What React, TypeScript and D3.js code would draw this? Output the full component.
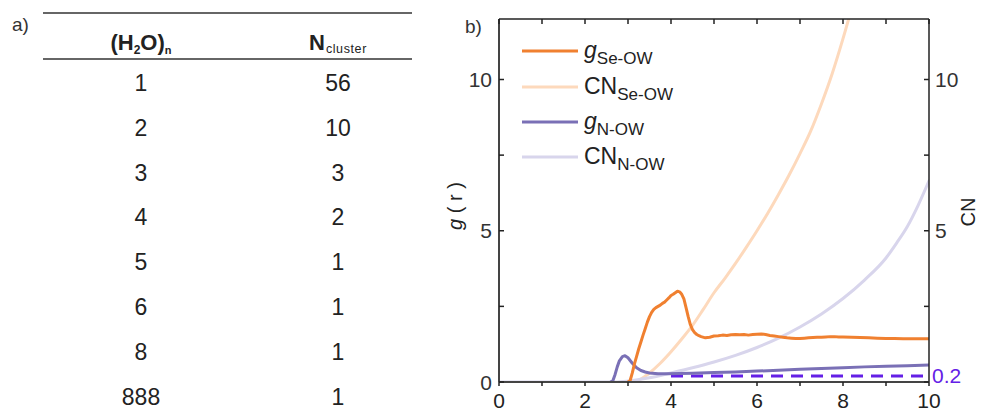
import React from "react";
import * as d3 from "d3";

// ---------- Table data ----------
const clusterSizes = ["1", "2", "3", "4", "5", "6", "8", "888"];
const clusterCounts = ["56", "10", "3", "2", "1", "1", "1", "1"];

// ---------- Chart data ----------
const xTicks = [0, 2, 4, 6, 8, 10];
const xMinorTicks = [0, 1, 2, 3, 4, 5, 6, 7, 8, 9, 10];
const yTicks = [0, 5, 10];
const yMinorTicks = [2.5, 7.5];
const refLevel = 0.2;
const refStart = 4.0;

// g Se-OW : [r, g]
const gSeOW: [number, number][] = [
  [3.0, 0], [3.05, 0.05], [3.1, 0.3], [3.15, 0.6], [3.2, 0.85], [3.25, 1.1], [3.3, 1.32],
  [3.35, 1.55], [3.4, 1.76], [3.45, 1.98], [3.5, 2.16], [3.55, 2.3], [3.6, 2.4], [3.65, 2.46],
  [3.7, 2.5], [3.75, 2.54], [3.8, 2.6], [3.85, 2.64], [3.9, 2.71], [3.95, 2.78], [4.0, 2.86],
  [4.05, 2.9], [4.1, 2.95], [4.15, 3.0], [4.2, 2.98], [4.25, 2.9], [4.3, 2.75], [4.35, 2.46],
  [4.4, 2.16], [4.45, 1.9], [4.5, 1.73], [4.55, 1.63], [4.6, 1.57], [4.65, 1.53], [4.7, 1.5],
  [4.8, 1.46], [4.9, 1.48], [5.0, 1.52], [5.1, 1.53], [5.2, 1.55], [5.3, 1.54], [5.4, 1.56],
  [5.5, 1.57], [5.6, 1.56], [5.7, 1.57], [5.8, 1.55], [5.9, 1.57], [6.0, 1.58], [6.1, 1.59],
  [6.2, 1.57], [6.3, 1.54], [6.4, 1.52], [6.5, 1.5], [6.6, 1.48], [6.7, 1.46], [6.8, 1.45],
  [6.9, 1.44], [7.0, 1.44], [7.1, 1.45], [7.2, 1.46], [7.3, 1.47], [7.4, 1.48], [7.5, 1.48],
  [7.6, 1.49], [7.7, 1.5], [7.8, 1.5], [7.9, 1.49], [8.0, 1.49], [8.2, 1.48], [8.4, 1.47],
  [8.6, 1.46], [8.8, 1.45], [9.0, 1.44], [9.2, 1.44], [9.4, 1.43], [9.6, 1.43], [9.8, 1.43],
  [10.0, 1.43],
];

// CN Se-OW : [r, CN]
const cnSeOW: [number, number][] = [
  [3.1, 0], [3.3, 0.1], [3.5, 0.3], [3.75, 0.62], [4.0, 1.0], [4.25, 1.42], [4.5, 1.87],
  [4.75, 2.4], [5.0, 2.95], [5.25, 3.42], [5.5, 3.92], [5.75, 4.45], [6.0, 5.0],
  [6.25, 5.58], [6.5, 6.2], [6.75, 6.85], [7.0, 7.55], [7.25, 8.3], [7.5, 9.2],
  [7.75, 10.2], [8.0, 11.35], [8.25, 12.6],
];

// g N-OW : [r, g]
const gNOW: [number, number][] = [
  [2.6, 0], [2.65, 0.05], [2.7, 0.25], [2.75, 0.5], [2.8, 0.7], [2.87, 0.84],
  [2.93, 0.87], [3.0, 0.8], [3.1, 0.62], [3.2, 0.47], [3.3, 0.38], [3.4, 0.33], [3.5, 0.3],
  [3.7, 0.27], [3.9, 0.27], [4.2, 0.28], [4.5, 0.29], [5.0, 0.31], [5.5, 0.33], [6.0, 0.36],
  [6.5, 0.39], [7.0, 0.42], [7.5, 0.45], [8.0, 0.47], [8.5, 0.5], [9.0, 0.52], [9.5, 0.54],
  [10.0, 0.56],
];

// CN N-OW : [r, CN]
const cnNOW: [number, number][] = [
  [0, 0], [2.7, 0], [3.0, 0.03], [3.5, 0.14], [4.0, 0.3], [4.5, 0.47], [5.0, 0.66],
  [5.5, 0.88], [6.0, 1.14], [6.5, 1.45], [7.0, 1.82], [7.5, 2.25], [8.0, 2.76],
  [8.5, 3.37], [9.0, 4.1], [9.25, 4.6], [9.5, 5.15], [9.75, 5.85], [10.0, 6.65],
];

const C_GSE = "#F08030";
const C_CNSE = "#FDD9BC";
const C_GN = "#7A70B6";
const C_CNN = "#D8D5EC";
const C_REF = "#6420E6";
const FONT = "'Liberation Sans', Arial, Helvetica, sans-serif";

export default function App() {
  const W = 981;
  const H = 412;
  const x = d3.scaleLinear().domain([0, 10]).range([499, 929]);
  const y = d3.scaleLinear().domain([0, 12]).range([382, 19]);
  const line = d3
    .line<[number, number]>()
    .x((d) => x(d[0]))
    .y((d) => y(d[1]));
  const smooth = d3
    .line<[number, number]>()
    .x((d) => x(d[0]))
    .y((d) => y(d[1]))
    .curve(d3.curveMonotoneX);

  const [x0, x1] = x.range();
  const [yb, yt] = y.range();

  // table layout
  const col1 = 141;
  const col2 = 338;
  const rowY0 = 83;
  const rowStep = 44.8;

  const legend = [
    { color: C_GSE, main: "g", italic: true, sub: "Se-OW", y: 51 },
    { color: C_CNSE, main: "CN", italic: false, sub: "Se-OW", y: 87 },
    { color: C_GN, main: "g", italic: true, sub: "N-OW", y: 122 },
    { color: C_CNN, main: "CN", italic: false, sub: "N-OW", y: 157 },
  ];

  return (
    <div style={{ position: "absolute", left: 0, top: 0 }}>
      <svg width={W} height={H} viewBox={`0 0 ${W} ${H}`} style={{ display: "block", background: "#fff" }}>
        <defs>
          <clipPath id="plotclip">
            <rect x={x0} y={yt} width={x1 - x0} height={yb - yt} />
          </clipPath>
        </defs>

        {/* ---------------- a) table ---------------- */}
        <text x={12} y={31} fontFamily={FONT} fontSize={19} fill="#333">a)</text>
        <line x1={43} x2={412} y1={13} y2={13} stroke="#333" strokeWidth={1.5} />
        <line x1={43} x2={412} y1={59} y2={59} stroke="#333" strokeWidth={1.5} />
        <text x={col1} y={50} textAnchor="middle" fontFamily={FONT} fontWeight="bold" fontSize={22} fill="#222">
          (H<tspan fontSize={12} dy={4}>2</tspan><tspan dy={-4}>O)</tspan><tspan fontSize={11} dy={4}>n</tspan>
        </text>
        <text x={309} y={50} fontFamily={FONT} fontWeight="bold" fontSize={22} fill="#222">
          N<tspan fontSize={12.5} fontWeight="normal" dy={3} dx={1} letterSpacing={0.6}>cluster</tspan>
        </text>
        {clusterSizes.map((s, i) => (
          <g key={"row" + i} fontFamily={FONT} fontSize={23} fill="#222">
            <text x={col1} y={rowY0 + i * rowStep + 8} textAnchor="middle">{s}</text>
            <text x={col2} y={rowY0 + i * rowStep + 8} textAnchor="middle">{clusterCounts[i]}</text>
          </g>
        ))}

        {/* ---------------- b) chart ---------------- */}
        <text x={465} y={33} fontFamily={FONT} fontSize={19} fill="#333">b)</text>

        {/* data lines */}
        <g clipPath="url(#plotclip)" fill="none" strokeLinejoin="round" strokeLinecap="round">
          <path d={smooth(cnSeOW) || ""} stroke={C_CNSE} strokeWidth={3} />
          <path d={smooth(cnNOW) || ""} stroke={C_CNN} strokeWidth={3} />
          <path
            d={line([[refStart, refLevel], [10, refLevel]]) || ""}
            stroke={C_REF}
            strokeWidth={3}
            strokeDasharray="12,8"
            strokeLinecap="butt"
          />
          <path d={line(gNOW) || ""} stroke={C_GN} strokeWidth={3} />
          <path d={line(gSeOW) || ""} stroke={C_GSE} strokeWidth={3} />
        </g>

        {/* frame */}
        <line x1={x0} x2={x0} y1={yt} y2={yb} stroke="#444" strokeWidth={2} />
        <line x1={x1} x2={x1} y1={yt} y2={yb} stroke="#222" strokeWidth={1.5} />
        <line x1={x0} x2={x1} y1={yt} y2={yt} stroke="#222" strokeWidth={1.5} />
        <line x1={x0} x2={x1} y1={yb} y2={yb} stroke="#444" strokeWidth={2} />

        {/* top ticks */}
        {xMinorTicks.map((t) => (
          <line key={"tt" + t} x1={x(t)} x2={x(t)} y1={yt} y2={yt + 5} stroke="#222" strokeWidth={1.5} />
        ))}
        {/* bottom ticks */}
        {xMinorTicks.map((t) => (
          <line key={"bt" + t} x1={x(t)} x2={x(t)} y1={yb} y2={yb + 4} stroke="#222" strokeWidth={1.5} />
        ))}
        {xTicks.map((t) => (
          <text key={"xl" + t} x={x(t)} y={408} textAnchor="middle" fontFamily={FONT} fontSize={21} fill="#222">
            {t}
          </text>
        ))}

        {/* left / right ticks */}
        {[...yTicks, ...yMinorTicks].map((t) => (
          <g key={"yt" + t}>
            <line x1={x0} x2={x0 + 5} y1={y(t)} y2={y(t)} stroke="#222" strokeWidth={1.5} />
            <line x1={x1 - 5} x2={x1} y1={y(t)} y2={y(t)} stroke="#222" strokeWidth={1.5} />
          </g>
        ))}
        {yTicks.map((t) => (
          <g key={"yl" + t} fontFamily={FONT} fontSize={21} fill="#333">
            <text x={x0 - 7} y={y(t) + 7.5} textAnchor="end">{t}</text>
            {t > 0 && <text x={x1 + 6} y={y(t) + 7.5}>{t}</text>}
          </g>
        ))}
        <text x={x1 + 3} y={y(refLevel) + 7.5} fontFamily={FONT} fontSize={21} fill={C_REF}>
          {refLevel}
        </text>

        {/* axis titles */}
        <text
          transform="translate(462,206) rotate(-90)"
          textAnchor="middle"
          fontFamily={FONT}
          fontSize={20}
          fill="#222"
        >
          <tspan fontStyle="italic">g</tspan>  ( r )
        </text>
        <text
          transform="translate(975,212) rotate(-90)"
          textAnchor="middle"
          fontFamily={FONT}
          fontSize={20}
          fill="#222"
        >
          CN
        </text>

        {/* legend */}
        {legend.map((l, i) => (
          <g key={"lg" + i}>
            <line x1={522} x2={578} y1={l.y} y2={l.y} stroke={l.color} strokeWidth={3} />
            <text x={584} y={l.y + 7} fontFamily={FONT} fontSize={23} fill="#222">
              <tspan fontStyle={l.italic ? "italic" : "normal"}>{l.main}</tspan>
              <tspan fontSize={17} dy={6}>{l.sub}</tspan>
            </text>
          </g>
        ))}
      </svg>
    </div>
  );
}
